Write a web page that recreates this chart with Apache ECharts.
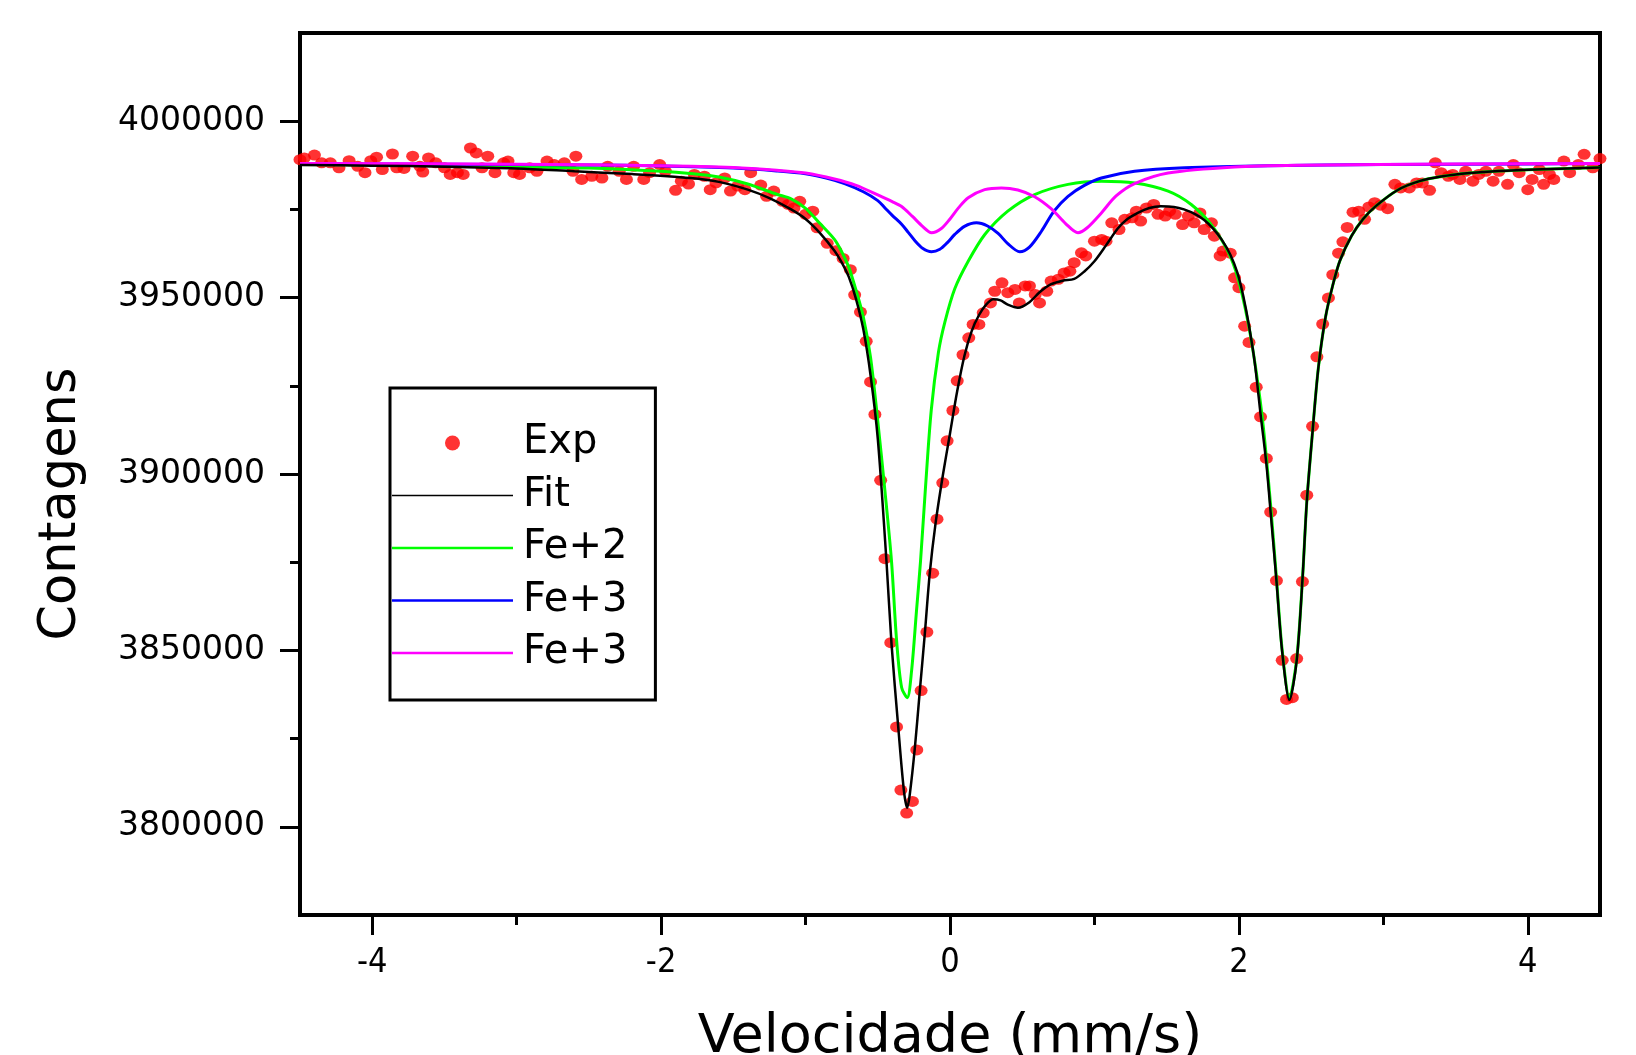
<!DOCTYPE html>
<html><head><meta charset="utf-8">
<script src="https://cdn.jsdelivr.net/npm/echarts@6/dist/echarts.min.js"></script>
<style>html,body{margin:0;padding:0;background:#fff}#c{width:1636px;height:1055px}</style>
</head><body><div id="c"></div>
<script>
// Experimental points [velocity mm/s, counts]
const expData = [
[-4.50,3989100],[-4.47,3989600],[-4.40,3990400],[-4.35,3988200],[-4.29,3988200],[-4.23,3986800],[-4.16,3988800],[-4.10,3987200],[-4.05,3985400],[-4.01,3988800],[-3.97,3989800],[-3.93,3986300],[-3.86,3990700],[-3.83,3986800],[-3.78,3986600],[-3.72,3990100],[-3.67,3987200],[-3.65,3985600],[-3.61,3989600],[-3.56,3988200],[-3.50,3986800],[-3.46,3984900],[-3.41,3985400],[-3.37,3984900],[-3.32,3992400],[-3.28,3991000],[-3.24,3986800],[-3.20,3990100],[-3.15,3985400],[-3.09,3988200],[-3.06,3988700],[-3.02,3985400],[-2.98,3984900],[-2.91,3986800],[-2.86,3985800],[-2.79,3988700],[-2.74,3987700],[-2.67,3988200],[-2.61,3985800],[-2.59,3990100],[-2.55,3983500],[-2.48,3984400],[-2.41,3983900],[-2.37,3987200],[-2.29,3985800],[-2.24,3983500],[-2.19,3987200],[-2.12,3983500],[-2.08,3985400],[-2.01,3987700],[-1.97,3985800],[-1.90,3980400],[-1.86,3983000],[-1.81,3982200],[-1.77,3984900],[-1.70,3984400],[-1.66,3980600],[-1.62,3982500],[-1.56,3983900],[-1.52,3980200],[-1.47,3981600],[-1.42,3980600],[-1.38,3985400],[-1.31,3981900],[-1.27,3978700],[-1.22,3980200],[-1.16,3977300],[-1.12,3976400],[-1.08,3975400],[-1.04,3977300],[-1.00,3973600],[-0.95,3974500],[-0.92,3969800],
[-0.85,3965400],[-0.79,3963300],[-0.74,3961100],[-0.69,3957900],[-0.66,3950800],[-0.62,3945900],[-0.58,3937600],[-0.55,3926100],[-0.52,3916900],[-0.48,3898200],[-0.45,3876000],[-0.41,3852200],[-0.37,3828300],[-0.34,3810400],[-0.30,3803900],[-0.26,3807200],[-0.23,3821800],[-0.20,3838600],[-0.16,3855200],[-0.12,3871900],[-0.09,3887200],[-0.05,3897500],[-0.02,3909400],[0.02,3918000],[0.05,3926400],[0.09,3933800],
[0.13,3938600],[0.16,3942400],[0.20,3942400],[0.23,3945700],[0.28,3948500],[0.31,3951800],[0.36,3954200],[0.40,3951400],[0.45,3952300],[0.48,3948500],[0.52,3953300],[0.55,3953300],[0.59,3950900],[0.62,3948500],[0.67,3951800],[0.70,3954700],[0.75,3955200],[0.79,3957000],[0.83,3957500],[0.86,3959900],[0.91,3962700],[0.94,3961800],[1.00,3966000],[1.05,3966500],[1.08,3966000],[1.12,3971200],[1.17,3969300],[1.21,3972200],[1.26,3972600],[1.29,3974500],[1.32,3971700],[1.36,3975400],[1.41,3976400],[1.44,3973600],[1.49,3973100],[1.52,3974500],[1.56,3973600],[1.61,3970700],[1.65,3973100],[1.69,3971200],[1.73,3974000],[1.76,3969300],[1.81,3971200],[1.83,3967400],[1.87,3961800],[1.89,3963200],[1.94,3962600],[1.97,3955600],[2.00,3952800],[2.04,3941900],[2.07,3937300],
[2.12,3924600],[2.15,3916200],[2.19,3904400],[2.22,3889200],[2.26,3869800],[2.30,3847200],[2.33,3836100],[2.37,3836600],[2.40,3847700],[2.44,3869500],[2.47,3894000],[2.51,3913500],[2.54,3933200],[2.58,3942500],[2.62,3949900],[2.65,3956500],[2.69,3962600],[2.72,3965800],[2.75,3969900],[2.79,3974200],[2.83,3974500],[2.87,3972200],[2.90,3975700],[2.94,3976900],[2.98,3976200],[3.03,3975200],
[3.08,3982100],[3.12,3981100],[3.18,3981100],[3.23,3982500],[3.27,3982500],[3.32,3980400],[3.36,3988200],[3.40,3985400],[3.45,3984400],[3.48,3984900],[3.53,3983500],[3.57,3985800],[3.62,3983000],[3.66,3984900],[3.71,3985800],[3.76,3983000],[3.80,3985800],[3.86,3982100],[3.90,3987700],[3.94,3985400],[4.00,3980600],[4.03,3983500],[4.08,3986300],[4.11,3982100],[4.15,3984900],[4.18,3983500],[4.25,3988700],[4.29,3985400],[4.35,3987700],[4.39,3990600],[4.45,3986800],[4.50,3989400]
];
// Total fit curve
const fitData = [
[-4.5,3987600],[-4.0,3987400],[-3.5,3987100],[-3.0,3986600],[-2.6,3985800],[-2.2,3985000],[-1.8,3983900],[-1.6,3982800],[-1.4,3980600],[-1.25,3978200],[-1.1,3975000],[-1.0,3972300],[-0.9,3968300],[-0.8,3963300],[-0.75,3960000],[-0.7,3955800],[-0.65,3949500],[-0.6,3941000],[-0.55,3928000],[-0.5,3910000],[-0.44,3875400],[-0.405,3851900],[-0.358,3828100],[-0.319,3810200],[-0.296,3805400],[-0.278,3809300],[-0.243,3822500],[-0.209,3838500],[-0.174,3854900],[-0.14,3871900],[-0.1,3886000],[-0.05,3899500],[0.0,3911500],[0.05,3923500],[0.1,3933500],[0.15,3940500],[0.2,3945000],[0.25,3948000],[0.3,3949500],[0.35,3949200],[0.4,3948000],[0.47,3947100],[0.55,3948700],[0.62,3951500],[0.7,3953800],[0.78,3954800],[0.86,3955300],[0.93,3957400],[1.0,3960300],[1.08,3964800],[1.16,3969500],[1.22,3972000],[1.3,3974000],[1.38,3975400],[1.46,3975900],[1.55,3975700],[1.62,3975000],[1.7,3973600],[1.76,3972000],[1.82,3969600],[1.88,3966500],[1.94,3962200],[1.99,3957000],[2.03,3950500],[2.07,3942000],[2.11,3931500],[2.15,3917000],[2.19,3903000],[2.22,3889000],[2.26,3869800],[2.3,3849500],[2.35,3836000],[2.4,3847000],[2.44,3870000],[2.47,3892000],[2.51,3912000],[2.55,3930000],[2.6,3944500],[2.65,3953500],[2.7,3960500],[2.78,3967500],[2.86,3972300],[2.95,3976000],[3.1,3980500],[3.25,3983000],[3.4,3984300],[3.6,3985300],[3.8,3985900],[4.1,3986400],[4.5,3986900]
];
// Fe+2 component
const fe2Data = [
[-4.5,3987700],[-4.0,3987600],[-3.5,3987400],[-3.0,3987100],[-2.5,3986700],[-2.0,3985800],[-1.8,3985200],[-1.6,3984200],[-1.4,3982200],[-1.2,3979300],[-1.1,3978000],[-1.0,3975300],[-0.9,3971000],[-0.8,3966500],[-0.75,3963000],[-0.7,3958500],[-0.65,3952000],[-0.6,3944500],[-0.55,3933000],[-0.5,3915000],[-0.45,3895000],[-0.405,3875300],[-0.37,3853000],[-0.335,3839500],[-0.296,3836600],[-0.266,3844200],[-0.232,3861200],[-0.204,3875300],[-0.17,3896000],[-0.13,3918000],[-0.08,3934500],[-0.036,3943000],[0.033,3952500],[0.126,3960300],[0.241,3967900],[0.4,3974500],[0.586,3979200],[0.817,3982100],[1.05,3983000],[1.28,3982500],[1.51,3980200],[1.67,3976400],[1.808,3970700],[1.923,3963200],[1.993,3955600],[2.062,3943300],[2.12,3929000],[2.17,3913000],[2.22,3891000],[2.26,3870500],[2.3,3850000],[2.35,3836600],[2.4,3847500],[2.44,3870000],[2.47,3892000],[2.51,3912000],[2.55,3930000],[2.6,3944500],[2.65,3953500],[2.7,3960500],[2.78,3967500],[2.86,3972300],[2.95,3976000],[3.1,3980500],[3.25,3983000],[3.4,3984300],[3.6,3985300],[3.8,3985900],[4.1,3986400],[4.5,3986900]
];
// Fe+3 component (blue)
const fe3aData = [
[-4.5,3987900],[-3.5,3987800],[-2.5,3987600],[-2.0,3987300],[-1.5,3986700],[-1.2,3985900],[-1.0,3985100],[-0.85,3983800],[-0.73,3982300],[-0.6,3980000],[-0.5,3977500],[-0.45,3975400],[-0.4,3973300],[-0.335,3970800],[-0.289,3968500],[-0.24,3966000],[-0.19,3964000],[-0.128,3963000],[-0.07,3963700],[-0.02,3965500],[0.033,3967900],[0.1,3970200],[0.183,3971200],[0.26,3970300],[0.333,3968200],[0.4,3965300],[0.483,3963000],[0.55,3964300],[0.633,3968800],[0.72,3974500],[0.817,3978700],[0.93,3981800],[1.048,3983900],[1.278,3985800],[1.624,3986800],[2.2,3987400],[3.0,3987700],[4.0,3987900],[4.5,3988000]
];
// Fe+3 component (magenta)
const fe3bData = [
[-4.5,3988000],[-3.0,3987800],[-2.0,3987400],[-1.5,3986900],[-1.2,3986100],[-1.0,3985300],[-0.8,3983600],[-0.65,3981800],[-0.5,3979100],[-0.4,3977200],[-0.335,3975800],[-0.26,3973000],[-0.19,3970200],[-0.128,3968400],[-0.06,3969600],[0.0,3972300],[0.06,3975500],[0.126,3978300],[0.24,3980600],[0.356,3981100],[0.47,3980500],[0.586,3978600],[0.7,3975200],[0.8,3971000],[0.886,3968400],[0.95,3969800],[1.048,3974000],[1.15,3978800],[1.278,3982300],[1.51,3985300],[1.97,3987000],[2.43,3987500],[3.5,3987900],[4.5,3988000]
];
const xMajorTicks = [-4, -2, 0, 2, 4];
const xMinorTicks = [-3, -1, 1, 3];
const yMajorTicks = [3800000, 3850000, 3900000, 3950000, 4000000];
const yMinorTicks = [3825000, 3875000, 3925000, 3975000];
const legendNames = ['Exp', 'Fit', 'Fe+2', 'Fe+3', 'Fe+3 '];

const chart = echarts.init(document.getElementById('c'), null, {renderer: 'canvas'});
const black = '#000';
const thinLine = 'path://M0,0H240V3H0Z';
const thickLine = 'path://M0,0H240V5H0Z';
chart.setOption({
  animation: false,
  backgroundColor: '#fff',
  grid: {left: 300, right: 36, top: 33, bottom: 140, outerBoundsMode: 'none', containLabel: false,
         show: true, borderColor: black, borderWidth: 4, backgroundColor: 'transparent'},
  legend: {
    orient: 'vertical', left: 390, top: 388,
    data: [
      {name: legendNames[0], icon: 'circle'},
      {name: legendNames[1], icon: thinLine},
      {name: legendNames[2], icon: thickLine},
      {name: legendNames[3], icon: thickLine},
      {name: legendNames[4], icon: thickLine}
    ],
    formatter: n => n.trim(),
    itemWidth: 121, itemHeight: 15, itemGap: 12.5,
    padding: [35, 28, 27, 2],
    borderColor: black, borderWidth: 3,
    textStyle: {fontSize: 40, fontFamily: 'DejaVu Sans', color: black, lineHeight: 40, padding: [0, 0, 0, 5]}
  },
  xAxis: [
    {type: 'value', min: -4.5, max: 4.5, position: 'bottom',
     axisLine: {show: true, onZero: false, lineStyle: {color: black, width: 4}},
     axisTick: {show: true, length: 20, lineStyle: {color: black, width: 3}, customValues: xMajorTicks},
     axisLabel: {customValues: xMajorTicks, margin: 31, fontSize: 34, color: black,
                 fontFamily: "'Liberation Sans Narrow', 'DejaVu Sans Condensed', 'Liberation Sans'"},
     splitLine: {show: false},
     name: 'Velocidade (mm/s)', nameLocation: 'middle', nameGap: 96,
     nameTextStyle: {fontSize: 54, fontFamily: 'DejaVu Sans', color: black}},
    {type: 'value', min: -4.5, max: 4.5, position: 'bottom',
     axisLine: {show: false, onZero: false},
     axisTick: {show: true, length: 10, lineStyle: {color: black, width: 3}, customValues: xMinorTicks},
     axisLabel: {show: false}, splitLine: {show: false}}
  ],
  yAxis: [
    {type: 'value', min: 3775000, max: 4025000, position: 'left',
     axisLine: {show: true, onZero: false, lineStyle: {color: black, width: 4}},
     axisTick: {show: true, length: 20, lineStyle: {color: black, width: 3}, customValues: yMajorTicks},
     axisLabel: {customValues: yMajorTicks, margin: 35, fontSize: 33, color: black, fontFamily: 'DejaVu Sans', formatter: v => String(v)},
     splitLine: {show: false},
     name: 'Contagens', nameLocation: 'middle', nameGap: 213, nameRotate: 90,
     nameTextStyle: {fontSize: 51, fontFamily: 'DejaVu Sans', color: black, padding: [0, 60, 0, 0]}},
    {type: 'value', min: 3775000, max: 4025000, position: 'left',
     axisLine: {show: false, onZero: false},
     axisTick: {show: true, length: 10, lineStyle: {color: black, width: 3}, customValues: yMinorTicks},
     axisLabel: {show: false}, splitLine: {show: false}}
  ],
  series: [
    {name: 'Exp', type: 'scatter', data: expData, symbol: 'circle', symbolSize: [13, 11], itemStyle: {color: '#ff0000'}, z: 2},
    {name: 'Fit', type: 'line', data: fitData, symbol: 'none', smooth: 0.3, lineStyle: {color: black, width: 2.5}, itemStyle: {color: black}, z: 6},
    {name: 'Fe+2', type: 'line', data: fe2Data, symbol: 'none', smooth: 0.3, lineStyle: {color: '#00ff00', width: 3}, itemStyle: {color: '#00ff00'}, z: 3},
    {name: 'Fe+3', type: 'line', data: fe3aData, symbol: 'none', smooth: 0.3, lineStyle: {color: '#0000ff', width: 3}, itemStyle: {color: '#0000ff'}, z: 4},
    {name: 'Fe+3 ', type: 'line', data: fe3bData, symbol: 'none', smooth: 0.3, lineStyle: {color: '#ff00ff', width: 3}, itemStyle: {color: '#ff00ff'}, z: 5}
  ]
});
</script>
</body></html>
